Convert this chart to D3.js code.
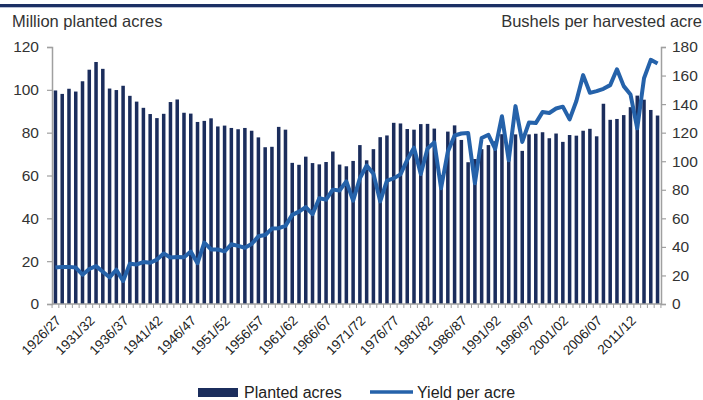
<!DOCTYPE html>
<html>
<head>
<meta charset="utf-8">
<script src="https://cdn.jsdelivr.net/npm/d3@7"></script>
<style>
  body { margin: 0; background: #fff; }
  svg { display: block; font-family: "Liberation Sans", Arial, Helvetica, sans-serif; }
</style>
</head>
<body>
<script>
// marketing years 1926/27 .. 2015/16
var years = d3.range(1926, 2016);

// planted acres, million
var planted = [
  99.7, 98.1, 100.5, 99.2, 104.0, 109.4, 113.0, 109.8, 100.6, 99.9,
  101.9, 97.2, 94.5, 91.6, 88.7, 86.8, 88.8, 94.3, 95.5, 89.3,
  88.9, 85.0, 85.5, 86.7, 82.9, 83.3, 82.2, 81.6, 82.2, 80.9,
  77.8, 73.2, 73.4, 82.7, 81.4, 65.9, 65.0, 68.8, 65.8, 65.2,
  66.3, 71.2, 65.1, 64.3, 66.8, 74.2, 67.1, 72.3, 77.9, 78.7,
  84.6, 84.3, 81.7, 81.4, 84.0, 84.1, 81.9, 60.2, 80.5, 83.4,
  76.6, 66.2, 67.7, 72.3, 74.2, 76.0, 79.3, 73.2, 79.2, 71.5,
  79.2, 79.5, 80.2, 77.4, 79.6, 75.7, 78.9, 78.6, 80.9, 81.8,
  78.3, 93.5, 86.0, 86.4, 88.2, 91.9, 97.3, 95.4, 90.6, 88.0
];

// yield, bushels per harvested acre
var yieldPerAcre = [
  25.5, 26.0, 26.0, 25.5, 20.5, 24.5, 26.5, 22.6, 18.7, 24.0,
  16.1, 28.2, 27.7, 29.4, 28.9, 31.1, 35.4, 32.6, 33.0, 32.7,
  36.7, 28.6, 43.0, 38.2, 38.2, 36.9, 41.8, 40.7, 39.4, 42.0,
  47.4, 48.3, 52.8, 53.1, 54.7, 62.4, 64.7, 67.9, 62.9, 74.1,
  73.1, 80.1, 79.5, 85.9, 72.4, 88.1, 97.0, 91.3, 71.9, 86.4,
  88.0, 90.8, 101.0, 109.5, 91.0, 108.9, 113.2, 81.1, 106.7, 118.0,
  119.4, 119.8, 84.6, 116.3, 118.5, 108.6, 131.5, 100.7, 138.6, 113.5,
  127.1, 126.7, 134.4, 133.8, 136.9, 138.2, 129.3, 142.2, 160.3, 147.9,
  149.1, 150.7, 153.3, 164.4, 152.6, 146.8, 123.1, 158.1, 171.0, 168.4
];

var leftTicks = [0, 20, 40, 60, 80, 100, 120];
var rightTicks = [0, 20, 40, 60, 80, 100, 120, 140, 160, 180];
var labelYears = d3.range(1926, 2016, 5);

function mktLabel(y) {
  return y + "/" + String((y + 1) % 100).padStart(2, "0");
}

var W = 703, H = 400;
var margin = {top: 47, right: 42, bottom: 96, left: 52};
var innerW = W - margin.left - margin.right,
    innerH = H - margin.top - margin.bottom;

var barColor = "#1b2d5c",
    lineColor = "#2562aa",
    axisColor = "#a0a0a0",
    textColor = "#333";

var svg = d3.select("body").append("svg")
    .attr("width", W)
    .attr("height", H);

// top rule
svg.append("rect")
    .attr("x", 0).attr("y", 4)
    .attr("width", W).attr("height", 3)
    .attr("fill", "#1c3064");
svg.append("rect")
    .attr("x", 0).attr("y", 7)
    .attr("width", W).attr("height", 1)
    .attr("fill", "#b8c0d4");

var g = svg.append("g")
    .attr("transform", "translate(" + margin.left + "," + margin.top + ")");

var x = d3.scaleBand()
    .domain(years)
    .range([0, innerW])
    .paddingInner(0.48)
    .paddingOuter(0.25);

var yL = d3.scaleLinear().domain([0, 120]).range([innerH, 0]);
var yR = d3.scaleLinear().domain([0, 180]).range([innerH, 0]);

// bars
g.append("g").selectAll("rect")
    .data(years)
    .enter()
    .append("rect")
    .attr("x", function (d) { return x(d); })
    .attr("y", function (d, i) { return yL(planted[i]); })
    .attr("width", x.bandwidth())
    .attr("height", function (d, i) { return innerH - yL(planted[i]); })
    .attr("fill", barColor);

// yield line
var line = d3.line()
    .x(function (d, i) { return x(years[i]) + x.bandwidth() / 2; })
    .y(function (d) { return yR(d); })
    .curve(d3.curveLinear);

g.append("path")
    .datum(yieldPerAcre)
    .attr("fill", "none")
    .attr("stroke", lineColor)
    .attr("stroke-width", 4)
    .attr("stroke-linejoin", "round")
    .attr("d", line);

// left axis
var axL = g.append("g")
    .call(d3.axisLeft(yL).tickValues(leftTicks).tickSize(5).tickPadding(8));
// right axis
var axR = g.append("g")
    .attr("transform", "translate(" + innerW + ",0)")
    .call(d3.axisRight(yR).tickValues(rightTicks).tickSize(5).tickPadding(6));

[axL, axR].forEach(function (ax) {
  ax.select(".domain").attr("stroke", axisColor).attr("stroke-width", 1.5);
  ax.selectAll(".tick line").attr("stroke", axisColor).attr("stroke-width", 1.2);
  ax.selectAll(".tick text")
      .attr("fill", textColor)
      .style("font-size", "15.5px")
      .style("font-family", "'Liberation Sans', Arial, sans-serif");
});

// bottom axis: a tick at every category boundary
var step = x.step();
var boundaries = years.map(function (d) { return x(d) - step * x.paddingInner() / 2; });
boundaries.push(x(years[years.length - 1]) + x.bandwidth() + step * x.paddingInner() / 2);

var axB = g.append("g").attr("transform", "translate(0," + innerH + ")");
axB.append("line")
    .attr("x1", 0).attr("x2", innerW)
    .attr("stroke", axisColor).attr("stroke-width", 1.5);
axB.selectAll(".btick")
    .data(boundaries)
    .enter()
    .append("line")
    .attr("class", "btick")
    .attr("x1", function (d) { return d; })
    .attr("x2", function (d) { return d; })
    .attr("y1", 0).attr("y2", 4)
    .attr("stroke", axisColor).attr("stroke-width", 1);

axB.selectAll(".xlab")
    .data(labelYears)
    .enter()
    .append("text")
    .attr("class", "xlab")
    .attr("transform", function (d) {
      return "translate(" + (x(d) + x.bandwidth() / 2 + 3) + ",14) rotate(-45)";
    })
    .attr("text-anchor", "end")
    .attr("dy", "0.35em")
    .attr("fill", "#222")
    .style("font-size", "13.5px")
    .text(mktLabel);

// axis titles
svg.append("text")
    .attr("x", 12).attr("y", 27)
    .attr("fill", textColor)
    .style("font-size", "16.5px")
    .text("Million planted acres");

svg.append("text")
    .attr("x", 702).attr("y", 27)
    .attr("text-anchor", "end")
    .attr("fill", textColor)
    .style("font-size", "16.5px")
    .text("Bushels per harvested acre");

// legend
var leg = svg.append("g");
leg.append("rect")
    .attr("x", 198).attr("y", 388)
    .attr("width", 40).attr("height", 9)
    .attr("fill", barColor);
leg.append("text")
    .attr("x", 244).attr("y", 398)
    .attr("fill", "#222")
    .style("font-size", "16px")
    .text("Planted acres");
leg.append("line")
    .attr("x1", 370).attr("x2", 413)
    .attr("y1", 392).attr("y2", 392)
    .attr("stroke", lineColor)
    .attr("stroke-width", 3.5);
leg.append("text")
    .attr("x", 417).attr("y", 398)
    .attr("fill", "#222")
    .style("font-size", "16px")
    .text("Yield per acre");
</script>
</body>
</html>
